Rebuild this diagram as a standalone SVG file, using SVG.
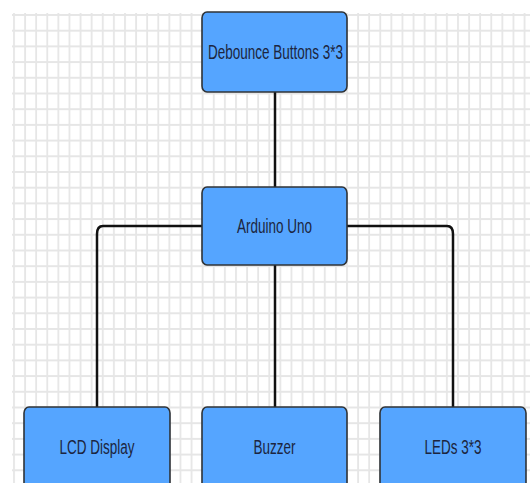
<svg xmlns="http://www.w3.org/2000/svg" width="530" height="483" viewBox="0 0 530 483">
  <style>
    .box { fill: #55A5FF; stroke: #2f3337; stroke-width: 1.6; }
    .lbl { font-family: "Liberation Sans", Arial, sans-serif; font-size: 13.5px; fill: #1c2540; text-anchor: middle; }
    .conn { fill: none; stroke: #111; stroke-width: 2.5; }
  </style>
  <defs>
    <pattern id="grid" patternUnits="userSpaceOnUse" x="13" y="14" width="11.1" height="15.7">
      <path d="M1 0 V15.7 M0 1 H11.1" stroke="#e6e6e6" stroke-width="1.8" fill="none"/>
    </pattern>
  </defs>
  <rect width="530" height="483" fill="#ffffff"/>
  <rect x="12" y="13" width="518" height="470" fill="url(#grid)"/>

  <g id="connectors">
    <path class="conn" d="M275 92 V187"/>
    <path class="conn" d="M275 265 V407"/>
    <path class="conn" d="M202 226 H103 Q97 226 97 234 V407"/>
    <path class="conn" d="M347 226 H447 Q453 226 453 234 V407"/>
  </g>

  <g id="debounce">
    <rect class="box" x="202" y="12" width="145" height="80" rx="5" ry="6"/>
    <text class="lbl" transform="translate(275.5 59) scale(1 1.47)">Debounce Buttons 3*3</text>
  </g>
  <g id="arduino">
    <rect class="box" x="202" y="187" width="145" height="78" rx="5" ry="6"/>
    <text class="lbl" transform="translate(274.5 233) scale(1 1.47)">Arduino Uno</text>
  </g>
  <g id="lcd">
    <rect class="box" x="24" y="407" width="146" height="82" rx="5" ry="6"/>
    <text class="lbl" transform="translate(97 454) scale(1 1.47)">LCD Display</text>
  </g>
  <g id="buzzer">
    <rect class="box" x="202" y="407" width="145" height="82" rx="5" ry="6"/>
    <text class="lbl" transform="translate(274.5 454) scale(1 1.47)">Buzzer</text>
  </g>
  <g id="leds">
    <rect class="box" x="380" y="407" width="146" height="82" rx="5" ry="6"/>
    <text class="lbl" transform="translate(453 454) scale(1 1.47)">LEDs 3*3</text>
  </g>
</svg>
